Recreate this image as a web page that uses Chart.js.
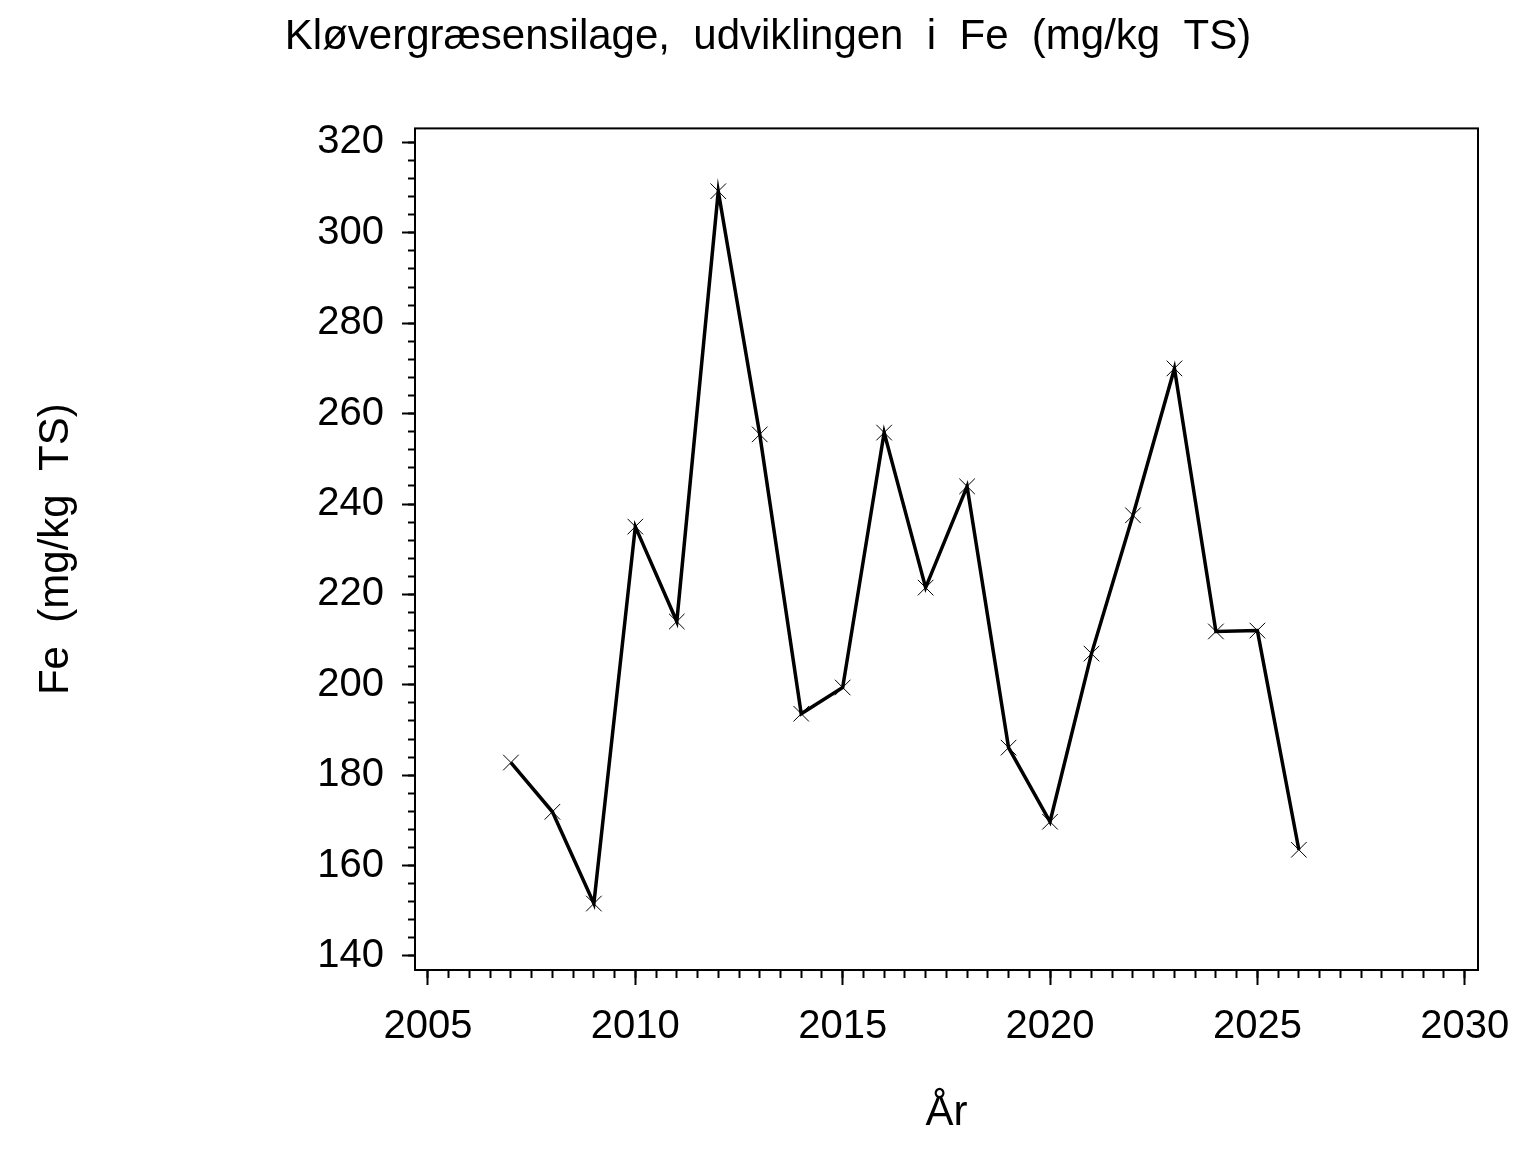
<!DOCTYPE html>
<html>
<head>
<meta charset="utf-8">
<script src="https://cdn.jsdelivr.net/npm/chart.js@4"></script>
<style>
  html, body { margin: 0; padding: 0; background: #ffffff; }
  #wrap { width: 1536px; height: 1152px; }
</style>
</head>
<body>
<div id="wrap"><canvas id="c" width="1536" height="1152"></canvas></div>
<script>
// ---- data ----
const chartTitle = 'Kløvergræsensilage,  udviklingen  i  Fe  (mg/kg  TS)';
const xTitle = 'År';
const yTitle = 'Fe  (mg/kg  TS)';
const years = [2007, 2008, 2009, 2010, 2011, 2012, 2013, 2014, 2015, 2016,
               2017, 2018, 2019, 2020, 2021, 2022, 2023, 2024, 2025, 2026];
const feValues = [182.8, 171.9, 151.6, 235.0, 214.0, 309.2, 255.4, 193.6, 199.4, 255.8,
                  221.5, 243.9, 186.1, 169.7, 206.9, 237.5, 270.0, 211.8, 212.0, 163.5];
const xMajorStep = 5, xMinorStep = 0.5;
const yMajorStep = 20, yMinorStep = 4;
const xRange = [2004.687, 2030.32];
const yRange = [136.9, 323.1];

const FONT = "'Liberation Sans', Arial, sans-serif";

const framePlugin = {
  id: 'frame',
  afterDatasetsDraw(chart) {
    const a = chart.chartArea, ctx = chart.ctx;
    ctx.save();
    ctx.strokeStyle = '#000';
    ctx.lineWidth = 2;
    ctx.strokeRect(a.left, a.top, a.right - a.left, a.bottom - a.top);
    ctx.restore();
  }
};

const points = years.map((yr, i) => ({ x: yr, y: feValues[i] }));

new Chart(document.getElementById('c'), {
  type: 'line',
  data: {
    datasets: [{
      data: points,
      borderColor: '#000',
      borderWidth: 3.5,
      tension: 0,
      fill: false,
      pointStyle: 'crossRot',
      pointRadius: 11,
      pointHoverRadius: 11,
      pointBorderWidth: 1,
      pointBorderColor: '#000',
      pointBackgroundColor: '#000'
    }]
  },
  options: {
    responsive: false,
    devicePixelRatio: 1,
    animation: false,
    layout: { padding: 0 },
    plugins: {
      legend: { display: false },
      tooltip: { enabled: false },
      title: {
        display: true,
        text: chartTitle,
        color: '#000',
        font: { family: FONT, size: 42, weight: 'normal' },
        padding: { top: 12.4, bottom: 65.6 }
      }
    },
    scales: {
      x: {
        type: 'linear', position: 'bottom', weight: 10, bounds: 'ticks',
        min: xRange[0], max: xRange[1],
        border: { display: false },
        grid: { drawOnChartArea: false, drawTicks: true, tickLength: 15, tickWidth: 2, tickColor: '#000' },
        ticks: { stepSize: xMajorStep, includeBounds: false, autoSkip: false, maxRotation: 0, color: '#000',
                 padding: 18, font: { family: FONT, size: 40 }, callback: v => String(v) },
        title: { display: true, text: xTitle, color: '#000', font: { family: FONT, size: 42 }, padding: { top: 0, bottom: 13 } },
        afterFit(s) { s.height = 182; }
      },
      xMinor: {
        type: 'linear', position: 'bottom', weight: 0, bounds: 'ticks',
        min: xRange[0], max: xRange[1],
        border: { display: false },
        grid: { drawOnChartArea: false, drawTicks: true, tickLength: 8, tickWidth: 2, tickColor: '#000' },
        ticks: { stepSize: xMinorStep, includeBounds: false, autoSkip: false, display: false },
        afterFit(s) { s.height = 0; }
      },
      y: {
        type: 'linear', position: 'left', weight: 10, bounds: 'ticks',
        min: yRange[0], max: yRange[1],
        border: { display: false },
        grid: { drawOnChartArea: false, drawTicks: true, tickLength: 13, tickWidth: 2, tickColor: '#000' },
        ticks: { stepSize: yMajorStep, includeBounds: false, autoSkip: false, color: '#000',
                 padding: 18, font: { family: FONT, size: 40 } },
        title: { display: true, text: yTitle, color: '#000', font: { family: FONT, size: 42 }, padding: { top: 31, bottom: 0 } },
        afterFit(s) { s.width = 415; }
      },
      yMinor: {
        type: 'linear', position: 'left', weight: 0, bounds: 'ticks',
        min: yRange[0], max: yRange[1],
        border: { display: false },
        grid: { drawOnChartArea: false, drawTicks: true, tickLength: 7, tickWidth: 2, tickColor: '#000' },
        ticks: { stepSize: yMinorStep, includeBounds: false, autoSkip: false, display: false },
        afterFit(s) { s.width = 0; }
      },
      rightSpace: {
        type: 'linear', position: 'right', display: true,
        border: { display: false },
        grid: { display: false, drawTicks: false },
        ticks: { display: false },
        afterFit(s) { s.width = 58; }
      }
    }
  },
  plugins: [framePlugin]
});
</script>
</body>
</html>
